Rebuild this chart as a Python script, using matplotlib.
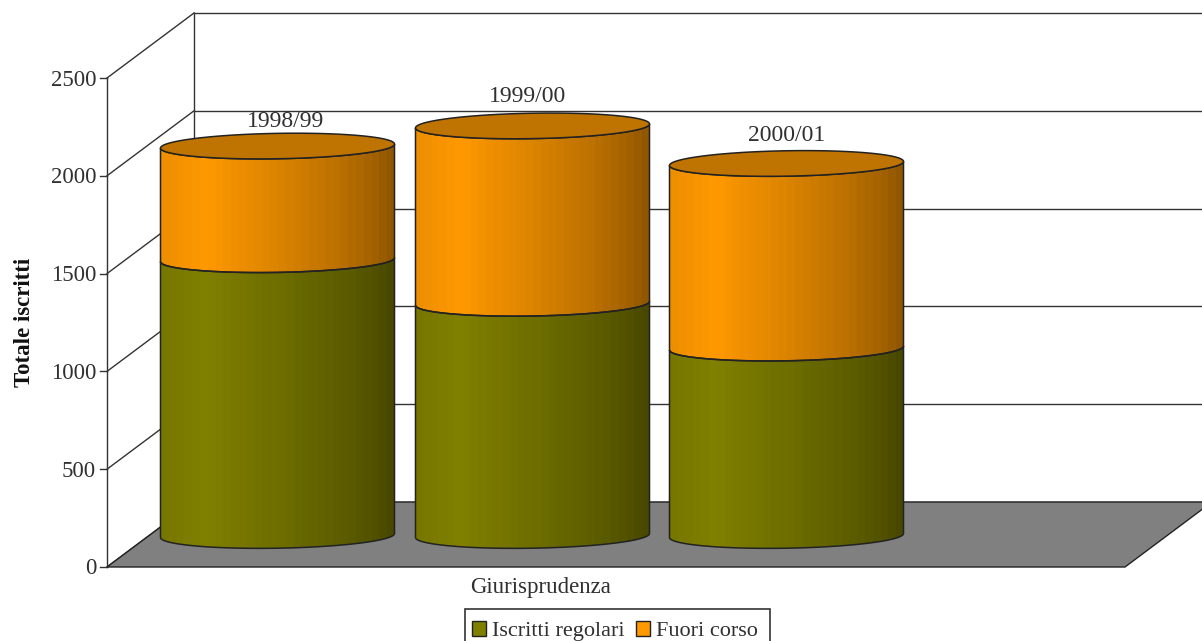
import numpy as np
import matplotlib
matplotlib.use('Agg')
import matplotlib.pyplot as plt
from matplotlib.patches import Polygon, Patch, Rectangle

plt.rcParams['font.family'] = ['Liberation Serif', 'DejaVu Serif']

# dati
anni = ['1998/99', '1999/00', '2000/01']
regolari = [1410, 1187, 958]
fuori_corso = [581, 907, 944]
tick_vals = [0, 500, 1000, 1500, 2000, 2500]
serie = ['Iscritti regolari', 'Fuori corso']

W, H = 1202, 641
Y0 = 567  # pixel row of value 0
U = 2500 / 489  # value units for one pixel

# layout of the fake 3d box
box_left, box_right = 107, 1125
dx = 87
dy = 65 * U
base = 31.5 * U
ry = 12.7 * U
tilt = 2 * U
rx = 117
centers = [277.5, 532.5, 786.5]
label_x = [286, 528, 787]
label_gap = [1, 6, 5]

OLIVE = np.array([128, 128, 0]) / 255
ORANGE = np.array([255, 153, 0]) / 255
TOP = '#bf7300'
LINE = '#333333'
TXT = '#303030'

fig = plt.figure(figsize=(W / 100, H / 100), dpi=100)
ax = fig.add_axes([0, 0, 1, 1])
ylim = ((Y0 - H) * U, Y0 * U)


def arc(cx, cy, t):
    return cx + rx * np.cos(t), cy - ry * np.sin(t) + tilt * np.cos(t)


def side(cx, low, high, color, z):
    # cylinder segment with banded shading, clipped to its outline
    t = np.linspace(0, np.pi, 80)
    xl, yl = arc(cx, low, t)
    xh, yh = arc(cx, high, t)
    poly = Polygon(np.r_[np.c_[xl, yl], np.c_[xh, yh][::-1]], closed=True,
                   fc='none', ec='#222222', lw=1.1, zorder=z + 0.5)
    ax.add_patch(poly)
    u = (np.arange(30) + 0.5) / 30
    k = np.interp(u, [0, 0.2, 0.25, 0.5, 0.75, 0.93, 1], [0.93, 1, 0.97, 0.86, 0.74, 0.62, 0.55])
    img = k[None, :, None] * color[None, None, :]
    im = ax.imshow(img, extent=(cx - rx, cx + rx, low - ry - tilt, high + tilt + ry),
                   aspect='auto', interpolation='nearest', zorder=z)
    clip = Polygon(poly.get_xy(), closed=True, transform=ax.transData)
    im.set_clip_path(clip)


# pareti e griglia
for v in tick_vals:
    y = v
    ax.plot([box_left - 7, box_left], [y, y], color=LINE, lw=1, zorder=1)
    ax.plot([box_left, box_left + dx], [y, y + dy], color=LINE, lw=1, zorder=1)
    ax.plot([box_left + dx, W + 5], [y + dy, y + dy], color=LINE, lw=1, zorder=1)
    ax.text(box_left - 11, y - 2 * U, str(v), ha='right', va='center', fontsize=16.5, color=TXT)
ax.plot([box_left, box_left], [0, tick_vals[-1]], color=LINE, lw=1, zorder=1)
ax.plot([box_left + dx, box_left + dx], [dy, tick_vals[-1] + dy], color=LINE, lw=1, zorder=1)

# pavimento
ax.add_patch(Polygon([(box_left, 0), (box_right, 0), (box_right + dx, dy), (box_left + dx, dy)],
                     closed=True, fc='#808080', ec='#222222', lw=1, zorder=2))

# cilindri
for i in range(len(anni)):
    cx = centers[i]
    y_a = base
    y_b = base + regolari[i]
    y_c = y_b + fuori_corso[i]
    z = 3 + i
    side(cx, y_a, y_b, OLIVE, z)
    side(cx, y_b, y_c, ORANGE, z + 0.1)
    t = np.linspace(0, 2 * np.pi, 160)
    ex, ey = arc(cx, y_c, t)
    ax.fill(ex, ey, fc=TOP, ec='#222222', lw=1.1, zorder=z + 0.7)
    ax.text(label_x[i], y_c + ry + label_gap[i] * U, anni[i], ha='center', va='bottom',
            fontsize=17, color=TXT, zorder=10)

ax.text(541, (Y0 - 587) * U, 'Giurisprudenza', ha='center', va='center', fontsize=16.5, color=TXT)
ax.text(25, (Y0 - 322) * U, 'Totale iscritti', rotation=90, ha='center', va='center',
        fontsize=16.5, fontweight='bold', color='#111111')

# legend box runs off the bottom of the picture
ax.add_patch(Rectangle((465, (Y0 - 650) * U), 305, 41 * U, fc='white', ec='#333333', lw=1.2, zorder=11))
handles = [Patch(fc=OLIVE, ec='#222222', label=serie[0]), Patch(fc=ORANGE, ec='#222222', label=serie[1])]
leg = ax.legend(handles=handles, ncol=2, loc='upper left', bbox_to_anchor=(465, (Y0 - 614) * U),
                bbox_transform=ax.transData, borderaxespad=0, fontsize=16, frameon=False,
                handlelength=0.65, handleheight=0.65, handletextpad=0.27, columnspacing=0.5,
                borderpad=0.3)
leg.set_zorder(12)
for txt in leg.get_texts():
    txt.set_color(TXT)

ax.set_xlim(0, W)
ax.set_ylim(*ylim)
ax.axis('off')
fig.savefig('out.png', dpi=100)
